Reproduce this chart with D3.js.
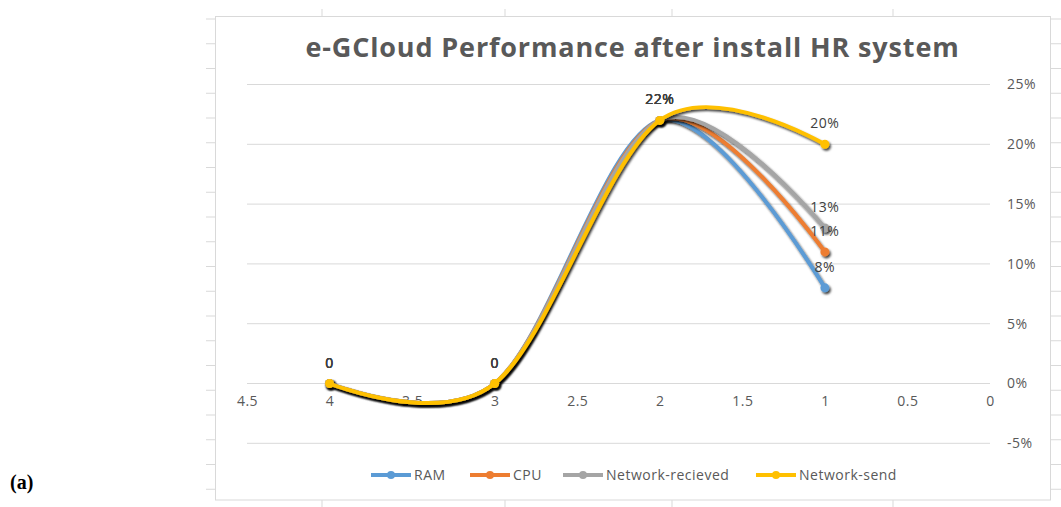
<!DOCTYPE html>
<html>
<head>
<meta charset="utf-8">
<script src="https://cdn.jsdelivr.net/npm/d3@7"></script>
<style>
  body { margin: 0; background: #fff; }
  svg { display: block; font-family: "Open Sans", sans-serif; }
</style>
</head>
<body>
<svg id="chart" width="1061" height="507"></svg>
<script>
// data
const xs = [4, 3, 2, 1];
const seriesNames = ["RAM", "CPU", "Network-recieved", "Network-send"];
const ram = [0, 0, 0.22, 0.08];
const cpu = [0, 0, 0.22, 0.11];
const netRecv = [0, 0, 0.22, 0.13];
const netSend = [0, 0, 0.22, 0.20];
const xTicks = [4.5, 4, 3.5, 3, 2.5, 2, 1.5, 1, 0.5, 0];
const yTicks = [-0.05, 0, 0.05, 0.10, 0.15, 0.20, 0.25];
const colors = ["#5B9BD5", "#ED7D31", "#A5A5A5", "#FFC000"];

const allValues = [ram, cpu, netRecv, netSend];
const series = seriesNames.map((name, i) => ({
  name,
  color: colors[i],
  points: xs.map((x, j) => ({ x, v: allValues[i][j] }))
}));

const svg = d3.select("#chart");

// sheet cell gridlines peeking around the chart
const sheet = svg.append("g").attr("stroke", "#d9d9d9").attr("stroke-width", 1);
const rowYs = d3.range(19, 500, 24.75);
sheet.selectAll(".rl").data(rowYs).join("line")
  .attr("x1", 206).attr("x2", 215).attr("y1", d => d).attr("y2", d => d);
sheet.selectAll(".rr").data(rowYs).join("line")
  .attr("x1", 1050).attr("x2", 1061).attr("y1", d => d).attr("y2", d => d);
const colXs = [322, 505, 672, 893];
sheet.selectAll(".ct").data(colXs).join("line")
  .attr("x1", d => d).attr("x2", d => d).attr("y1", 9).attr("y2", 17);
sheet.selectAll(".cb").data(colXs).join("line")
  .attr("x1", d => d).attr("x2", d => d).attr("y1", 500).attr("y2", 507);

// chart frame
svg.append("rect")
  .attr("x", 215.5).attr("y", 16.5).attr("width", 835).attr("height", 483.5)
  .attr("fill", "#fff").attr("stroke", "#d9d9d9");

// shadow filter
const defs = svg.append("defs");
defs.append("filter").attr("id", "shadow")
  .attr("x", "-10%").attr("y", "-10%").attr("width", "120%").attr("height", "120%")
  .append("feDropShadow")
  .attr("dx", 1.5).attr("dy", 2).attr("stdDeviation", 1.3)
  .attr("flood-color", "#000").attr("flood-opacity", 0.75);

const x = d3.scaleLinear().domain([4.5, 0]).range([247, 990]);
const y = d3.scaleLinear().domain([-0.05, 0.25]).range([443.3, 84.5]);

// gridlines
svg.append("g").selectAll("line").data(yTicks).join("line")
  .attr("x1", x(4.5)).attr("x2", x(0))
  .attr("y1", d => y(d)).attr("y2", d => y(d))
  .attr("stroke", "#d9d9d9").attr("stroke-width", 1);

const pct = d => Math.round(d * 100) + "%";

// x axis (labels only) sitting on the 0% line
const xAxis = svg.append("g")
  .attr("transform", `translate(0,${y(0)})`)
  .call(d3.axisBottom(x).tickValues(xTicks).tickSize(0).tickPadding(13).tickFormat(d3.format("")));
xAxis.select(".domain").remove();
xAxis.selectAll("text").attr("fill", "#595959").attr("font-size", 14)
  .attr("letter-spacing", 0.5)
  .attr("font-family", "'Open Sans', sans-serif");

// y axis on the right
const yAxis = svg.append("g")
  .attr("transform", `translate(${x(0)},0)`)
  .call(d3.axisRight(y).tickValues(yTicks).tickSize(0).tickPadding(17).tickFormat(pct));
yAxis.select(".domain").remove();
yAxis.selectAll("text").attr("fill", "#595959").attr("font-size", 14)
  .attr("letter-spacing", 0.5)
  .attr("font-family", "'Open Sans', sans-serif");

// smoothed lines
const line = d3.line()
  .x(d => x(d.x)).y(d => y(d.v))
  .curve(d3.curveCardinal.tension(0));

const g = svg.selectAll(".series").data(series).join("g")
  .attr("class", "series")
  .attr("filter", "url(#shadow)");
g.append("path")
  .attr("d", d => line(d.points))
  .attr("fill", "none")
  .attr("stroke", d => d.color)
  .attr("stroke-width", 4)
  .attr("stroke-linecap", "round");
g.selectAll("circle").data(d => d.points.map(p => ({ ...p, color: d.color }))).join("circle")
  .attr("cx", d => x(d.x)).attr("cy", d => y(d.v)).attr("r", 4.5)
  .attr("fill", d => d.color);

// data labels
const labelFmt = v => (v === 0 ? "0" : pct(v));
svg.selectAll(".lbls").data(series).join("g")
  .selectAll("text").data(d => d.points).join("text")
  .attr("x", d => x(d.x)).attr("y", d => y(d.v) - 16)
  .attr("text-anchor", "middle")
  .attr("font-size", 14)
  .attr("letter-spacing", 0.5)
  .attr("fill", "#404040")
  .text(d => labelFmt(d.v));

// title
svg.append("text")
  .attr("x", 632.5).attr("y", 57)
  .attr("text-anchor", "middle")
  .attr("font-size", 27)
  .attr("letter-spacing", 0.85)
  .attr("font-weight", "bold")
  .attr("fill", "#595959")
  .text("e-GCloud Performance after install HR system");

// legend
const legendX = [371, 470, 563, 756];
const leg = svg.selectAll(".leg").data(series).join("g")
  .attr("transform", (d, i) => `translate(${legendX[i]},475)`);
leg.append("line").attr("x1", 0).attr("x2", 40).attr("y1", 0).attr("y2", 0)
  .attr("stroke", d => d.color).attr("stroke-width", 4);
leg.append("circle").attr("cx", 20).attr("cy", 0).attr("r", 4).attr("fill", d => d.color);
leg.append("text").attr("x", 43).attr("y", 0).attr("dy", "0.35em")
  .attr("font-size", 14).attr("letter-spacing", 0.5).attr("fill", "#595959")
  .text(d => d.name);

// panel tag
svg.append("text")
  .attr("x", 10).attr("y", 489)
  .attr("font-family", "'Liberation Serif', 'Times New Roman', serif")
  .attr("font-weight", "bold").attr("font-size", 20)
  .attr("fill", "#000")
  .text("(a)");
</script>
</body>
</html>
